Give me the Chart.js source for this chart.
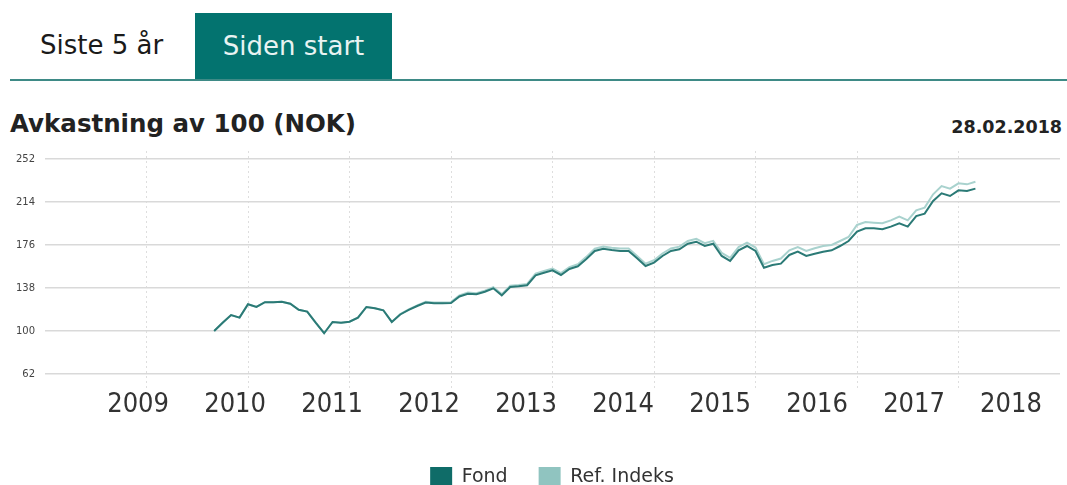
<!DOCTYPE html>
<html>
<head>
<meta charset="utf-8">
<script src="https://cdn.jsdelivr.net/npm/chart.js@4"></script>
<style>
  html, body { margin: 0; padding: 0; background: #fff; overflow: hidden; }
  body { width: 1067px; height: 485px; position: relative; font-family: "DejaVu Sans", Verdana, sans-serif; }
  .tab { position: absolute; top: 13px; height: 67px; font-size: 26px; line-height: 67px; }
  .tab1 { left: 40px; color: #1a1a1a; top: 12px; }
  .tab2 { left: 195px; width: 197px; background: #03736f; color: #e8f3f2; text-align: center; }
  .rule { position: absolute; left: 10px; right: 0; top: 79px; height: 2px; background: #3e8a86; }
  .title { position: absolute; left: 10px; top: 109px; font-size: 24.5px; font-weight: bold; color: #222; }
  .date { position: absolute; right: 5px; top: 117px; font-size: 17.5px; font-weight: bold; color: #222; }
  #wrap { position: absolute; left: 0; top: 140px; width: 1067px; height: 360px; }
</style>
</head>
<body>
<div class="tab tab1">Siste 5 år</div>
<div class="tab tab2">Siden start</div>
<div class="rule"></div>
<div class="title">Avkastning av 100 (NOK)</div>
<div class="date">28.02.2018</div>
<div id="wrap"><canvas id="chart"></canvas></div>
<script>
// monthly index values
const fond = [
  100, 107.3, 114.1, 111.8, 123.6, 121.2, 125.4, 125.4, 125.9, 124.1,
  118.8, 117.1, 107.3, 98, 108, 107.3, 108.2, 111.8, 121.2, 120.1,
  118.3, 108, 114.6, 118.6, 122.1, 125.2, 124.5, 124.5, 124.7, 130.5,
  132.9, 132.4, 134.7, 137.7, 131.5, 138.9, 139.5, 140.4, 149.2, 151.5,
  153.6, 149.5, 154.8, 157.2, 163.6, 170.7, 172.7, 171.6, 170.7, 170.7,
  164.2, 157.4, 160.4, 166.3, 170.7, 172.2, 177.1, 178.9, 175.1, 177.1,
  166.3, 161.9, 171.3, 175.1, 170.7, 155.9, 158.3, 159.5, 167.2, 170.1,
  166.3, 168.3, 170.1, 171.3, 175.1, 179.5, 187.8, 190.8, 190.8, 189.9,
  192.2, 195.2, 192.2, 201.6, 203.7, 214.9, 221.7, 219.3, 224.3, 223.7,
  225.8
];
const refIndeks = [
  100, 107.3, 114.1, 111.8, 123.6, 121.2, 125.4, 125.4, 125.9, 124.1,
  118.8, 117.1, 107.3, 98, 108, 107.3, 108.2, 111.8, 121.2, 120.1,
  118.3, 108, 114.9, 119, 122.6, 125.8, 125.1, 125.2, 125.5, 131.4,
  133.9, 133.4, 135.7, 138.8, 132.6, 140.1, 140.7, 141.6, 150.6, 153,
  155.2, 151.1, 156.5, 159, 165.5, 172.7, 174.7, 173.6, 172.8, 172.8,
  166.3, 159.5, 162.5, 168.5, 172.9, 174.5, 179.5, 181.4, 177.6, 179.7,
  169, 164.7, 174.1, 178, 173.7, 159, 161.9, 164, 171.3, 174.2,
  170.7, 173.1, 175.1, 176, 179.5, 183.1, 193.7, 196.3, 195.7, 195.2,
  197.8, 201, 197.8, 206.7, 209, 220.8, 228.1, 225.8, 230.5, 229.6,
  231.9
];
const yTicks = [62, 100, 138, 176, 214, 252];
const yearLabels = ['2009', '2010', '2011', '2012', '2013', '2014', '2015', '2016', '2017', '2018'];
const yearGridMonths = [-8, 4, 16, 28, 40, 52, 64, 76, 88];

const toPoints = arr => arr.map((v, i) => ({ x: i, y: v }));
const noBorder = { display: false, color: 'rgba(0,0,0,0)' };

new Chart(document.getElementById('chart'), {
  type: 'line',
  data: {
    datasets: [
      {
        label: 'Fond',
        data: toPoints(fond),
        borderColor: '#2b7a76',
        backgroundColor: '#0f6c68',
        borderWidth: 2,
        pointRadius: 0,
        tension: 0
      },
      {
        label: 'Ref. Indeks',
        data: toPoints(refIndeks),
        borderColor: '#a9d2ce',
        backgroundColor: '#90c4c0',
        borderWidth: 2,
        pointRadius: 0,
        tension: 0
      }
    ]
  },
  options: {
    responsive: true,
    maintainAspectRatio: false,
    animation: false,
    layout: { padding: { top: 11, right: 7, left: 44, bottom: 3 } },
    plugins: {
      tooltip: { enabled: false },
      legend: {
        position: 'bottom',
        labels: {
          boxWidth: 22,
          boxHeight: 20,
          padding: 31,
          color: '#333',
          font: { family: '"DejaVu Sans", Verdana, sans-serif', size: 19 },
          generateLabels: chart => Chart.defaults.plugins.legend.labels.generateLabels(chart)
            .map(item => Object.assign(item, { lineWidth: 0, strokeStyle: 'rgba(0,0,0,0)' }))
        }
      }
    },
    scales: {
      x: {
        type: 'linear',
        min: -20,
        max: 100,
        afterBuildTicks: s => { s.ticks = yearGridMonths.map(v => ({ value: v })); },
        afterFit: s => { s.height = 0; },
        ticks: { display: false },
        grid: { color: '#dedede', lineWidth: 1, drawTicks: false },
        border: { display: false, color: 'rgba(0,0,0,0)', dash: [2, 3] }
      },
      x2: {
        type: 'linear',
        position: 'bottom',
        min: 2008.04,
        max: 2018.505,
        afterBuildTicks: s => { s.ticks = yearLabels.map(v => ({ value: Number(v) })); },
        afterFit: s => { s.height = 48; },
        ticks: {
          padding: 1,
          maxRotation: 0,
          autoSkip: false,
          color: '#333',
          font: { family: '"DejaVu Sans Condensed", "Liberation Sans Narrow", "DejaVu Sans", sans-serif', size: 27 },
          callback: v => yearLabels[yearLabels.indexOf(String(v))]
        },
        grid: { display: false, drawTicks: false },
        border: noBorder
      },
      y: {
        min: 49.6,
        max: 259.07,
        afterBuildTicks: s => { s.ticks = yTicks.map(v => ({ value: v })); },
        afterFit: s => { s.width = 1; },
        ticks: {
          mirror: true,
          crossAlign: 'far',
          padding: -29,
          color: '#444',
          font: { family: '"DejaVu Sans", Verdana, sans-serif', size: 10 }
        },
        grid: { color: '#d9d9d9', lineWidth: 1.5, drawTicks: false },
        border: noBorder
      }
    }
  }
});
</script>
</body>
</html>
